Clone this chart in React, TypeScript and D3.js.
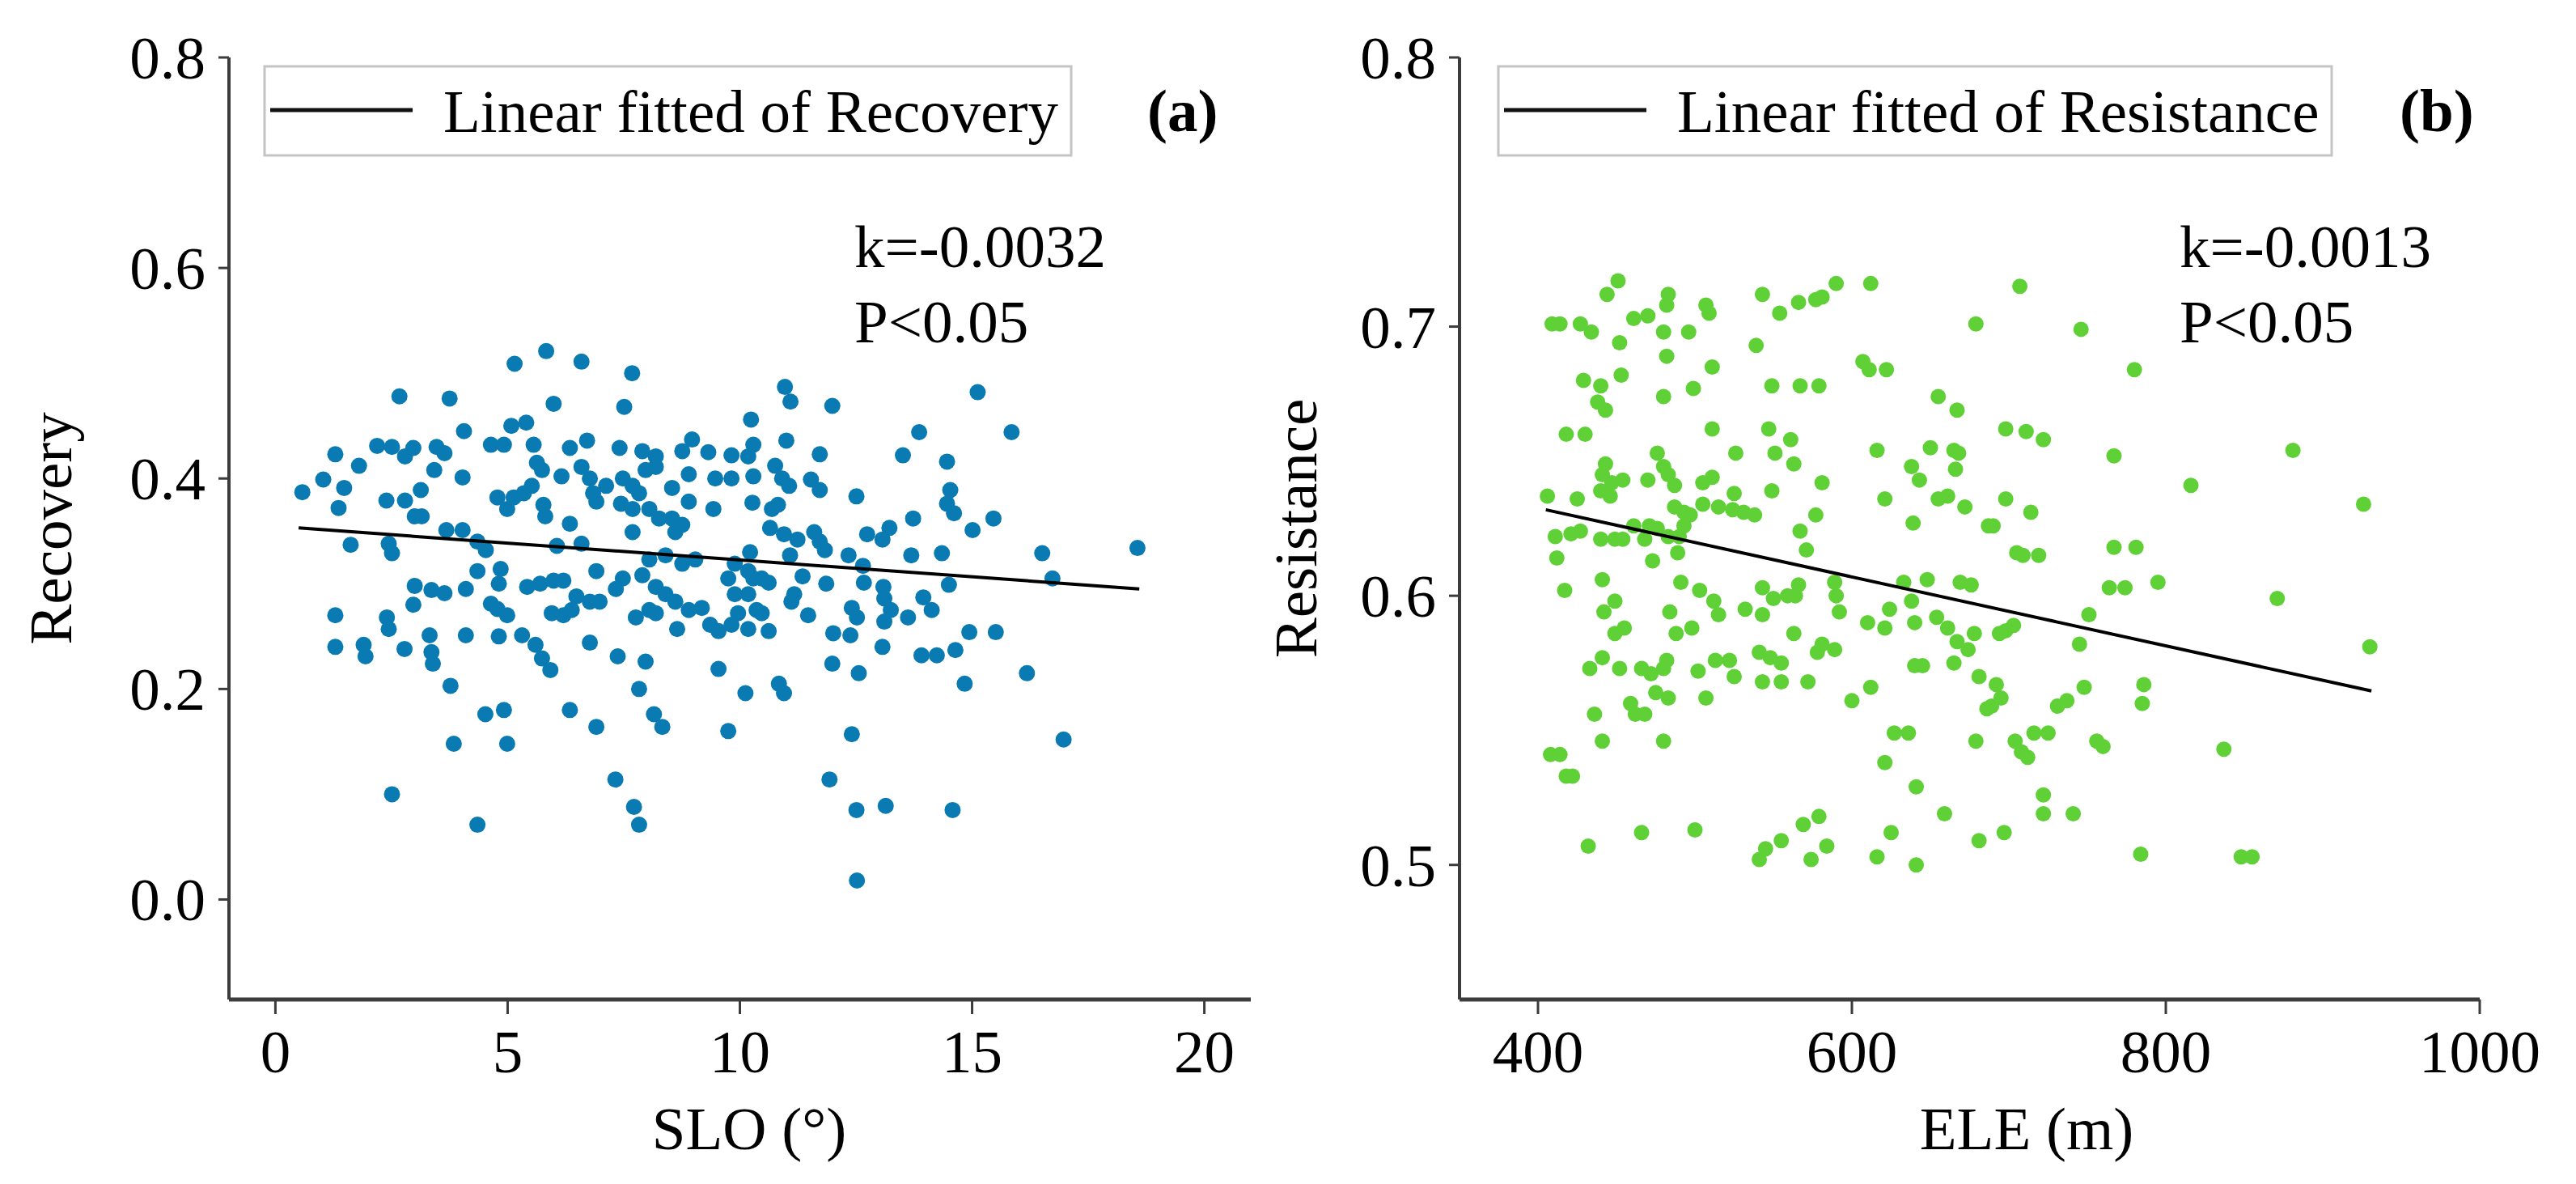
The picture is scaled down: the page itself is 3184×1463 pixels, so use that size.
import React from 'react';
import * as d3 from 'd3';

// ---- Panel (a): SLO vs Recovery ----
const sloValues = [
  5.83, 5.15, 6.59, 7.68, 2.67, 3.75, 5.99, 7.51, 4.06, 5.08, 5.40, 2.19, 2.51, 2.79, 2.97, 3.47, 3.64, 4.64, 4.92, 5.56,
  6.34, 6.71, 7.41, 7.90, 8.19, 8.97, 8.76, 9.32, 9.82, 1.29, 1.80, 1.03, 1.48, 0.58, 1.36, 2.39, 2.79, 3.13, 3.00, 3.15,
  3.42, 4.03, 5.63, 5.74, 5.52, 5.35, 5.13, 4.78, 4.99, 5.77, 5.81, 6.16, 6.59, 6.77, 6.84, 6.91, 7.12, 7.48, 7.69, 7.83,
  7.97, 8.19, 7.44, 7.69, 8.05, 8.26, 8.54, 8.76, 8.61, 8.54, 8.90, 8.90, 9.47, 9.82, 9.43, 6.34, 7.69, 1.62, 2.44, 2.51,
  3.68, 4.03, 4.35, 4.53, 6.06, 6.59, 8.05, 8.40, 8.76, 9.04, 9.89, 4.35, 4.85, 4.81, 6.91, 7.48, 7.33, 7.90, 8.19, 8.40,
  8.61, 8.90, 9.18, 9.75, 9.89, 9.96, 3.00, 3.36, 3.64, 4.10, 5.42, 5.70, 5.99, 6.20, 6.48, 6.77, 6.98, 5.95, 6.20, 6.38,
  4.64, 4.78, 4.99, 7.76, 8.05, 8.19, 9.36, 9.54, 9.82, 1.29, 2.97, 2.40, 2.44, 3.32, 4.10, 4.81, 5.31, 5.60, 5.74, 5.92,
  6.77, 7.37, 7.97, 8.65, 9.54, 1.29, 1.90, 1.94, 2.78, 3.36, 3.39, 3.77, 7.83, 4.52, 4.92, 6.34, 6.91, 8.15, 8.33, 9.75,
  3.84, 4.99, 7.32, 2.51, 7.72, 7.83, 4.35,
  10.97, 11.09, 11.99, 15.12, 10.24, 13.86, 15.85, 10.29, 11.00, 11.72, 13.51, 14.46, 10.18, 10.76, 10.91, 11.06, 10.29,
  11.53, 11.72, 12.51, 14.53, 14.46, 14.61, 10.27, 10.69, 10.82, 13.73, 15.01, 15.46, 10.65, 10.95, 11.24, 11.60, 11.72,
  11.83, 12.74, 13.07, 13.22, 10.22, 11.08, 12.34, 13.69, 14.35, 16.51, 18.56, 12.65, 12.67, 13.09, 13.11, 13.25, 13.11,
  13.62, 13.95, 14.13, 14.50, 16.73, 11.86, 11.35, 11.17, 11.11, 10.18, 10.29, 10.47, 10.62, 10.18, 10.36, 10.47, 10.18,
  10.62, 11.47, 12.41, 12.52, 12.01, 12.38, 13.07, 13.91, 14.24, 14.64, 14.94, 15.51, 11.99, 12.56, 14.84, 16.18, 10.12,
  10.84, 10.95, 12.41, 16.97, 11.93, 12.51, 13.14, 14.58, 12.52,
];
const recoveryValues = [
  0.521, 0.509, 0.511, 0.500, 0.478, 0.476, 0.471, 0.468, 0.445, 0.450, 0.453, 0.431, 0.430, 0.421, 0.429, 0.430, 0.424, 0.432, 0.432, 0.432,
  0.429, 0.436, 0.429, 0.426, 0.421, 0.437, 0.426, 0.425, 0.422, 0.423, 0.412, 0.399, 0.391, 0.387, 0.372, 0.379, 0.379, 0.389, 0.364, 0.364,
  0.408, 0.401, 0.415, 0.408, 0.393, 0.386, 0.382, 0.382, 0.371, 0.375, 0.364, 0.402, 0.411, 0.400, 0.386, 0.378, 0.393, 0.400, 0.393, 0.386,
  0.408, 0.411, 0.376, 0.371, 0.371, 0.362, 0.362, 0.356, 0.349, 0.391, 0.404, 0.378, 0.400, 0.400, 0.371, 0.357, 0.349, 0.337, 0.338, 0.329,
  0.351, 0.351, 0.340, 0.332, 0.336, 0.338, 0.323, 0.327, 0.319, 0.323, 0.319, 0.312, 0.314, 0.300, 0.312, 0.305, 0.295, 0.308, 0.297, 0.290,
  0.283, 0.275, 0.277, 0.305, 0.290, 0.272, 0.298, 0.294, 0.291, 0.295, 0.297, 0.300, 0.303, 0.303, 0.288, 0.283, 0.283, 0.272, 0.270, 0.275,
  0.281, 0.276, 0.270, 0.268, 0.275, 0.272, 0.261, 0.255, 0.261, 0.270, 0.280, 0.268, 0.257, 0.251, 0.251, 0.250, 0.251, 0.242, 0.229, 0.218,
  0.244, 0.231, 0.226, 0.257, 0.219, 0.240, 0.242, 0.231, 0.238, 0.235, 0.224, 0.203, 0.200, 0.176, 0.180, 0.180, 0.164, 0.176, 0.164, 0.160,
  0.148, 0.148, 0.114, 0.100, 0.088, 0.071, 0.071,
  0.487, 0.473, 0.469, 0.482, 0.456, 0.444, 0.444, 0.432, 0.436, 0.423, 0.422, 0.416, 0.421, 0.412, 0.400, 0.393, 0.402,
  0.399, 0.389, 0.383, 0.389, 0.376, 0.367, 0.377, 0.371, 0.375, 0.362, 0.351, 0.362, 0.353, 0.347, 0.342, 0.349, 0.340,
  0.332, 0.347, 0.342, 0.353, 0.330, 0.327, 0.327, 0.327, 0.329, 0.329, 0.334, 0.317, 0.301, 0.297, 0.286, 0.275, 0.264,
  0.268, 0.287, 0.275, 0.299, 0.305, 0.300, 0.307, 0.290, 0.283, 0.312, 0.305, 0.305, 0.301, 0.290, 0.275, 0.272, 0.257,
  0.255, 0.270, 0.277, 0.268, 0.253, 0.251, 0.240, 0.232, 0.232, 0.237, 0.254, 0.254, 0.224, 0.215, 0.205, 0.215, 0.196,
  0.205, 0.196, 0.157, 0.152, 0.114, 0.085, 0.089, 0.085, 0.018,
];

// ---- Panel (b): ELE vs Resistance ----
const eleValues = [
  451, 444, 483, 482, 507, 509, 543, 554, 566, 577, 581, 590, 612, 679, 409, 414, 427, 434, 461, 470,
  480, 496, 452, 539, 482, 511, 607, 611, 622, 429, 440, 453, 499, 480, 549, 567, 579, 438, 443, 655,
  667, 418, 430, 511, 547, 561, 551, 563, 526, 476, 616, 650, 665, 668, 666, 638, 643, 443, 441, 440,
  446, 447, 454, 470, 480, 483, 487, 505, 511, 406, 425, 525, 549, 581, 621, 655, 661, 672, 487, 493,
  497, 505, 515, 524, 531, 538, 493, 577, 567, 639, 687, 411, 421, 427, 440, 449, 454, 461, 471, 476,
  468, 483, 490, 489, 412, 473, 571, 417, 441, 491, 503, 512, 515, 484, 449, 442, 532, 543, 543, 550,
  559, 566, 564, 589, 590, 592, 633, 648, 669, 676, 638, 624, 654, 640, 610, 621, 449, 455, 488, 498,
  563, 661, 667, 674, 678, 433, 441, 452, 466, 472, 480, 482, 502, 513, 522, 525, 541, 548, 555, 543,
  555, 572, 578, 581, 589, 640, 645, 665, 681, 436, 459, 462, 468, 475, 483, 507, 600, 612, 686, 441,
  480, 627, 636, 679, 408, 414, 418, 422, 621, 641, 659, 432, 466, 500, 541, 545, 555, 569, 579, 574,
  584, 616, 625, 641, 681,
  707, 746, 780, 698, 711, 722, 767, 881, 816, 926, 698, 714, 690, 705, 709, 719, 767, 781, 764, 774,
  795, 871, 751, 694, 698, 703, 745, 930, 692, 695, 689, 731, 737, 748, 786, 785, 704, 708, 712, 716,
  725, 756, 760, 837, 722, 722, 741, 697, 784, 848, 855,
];
const resistanceValues = [
  0.717, 0.712, 0.712, 0.708, 0.708, 0.705, 0.712, 0.705, 0.709, 0.710, 0.711, 0.716, 0.716, 0.701, 0.701, 0.701, 0.701, 0.698, 0.703, 0.704,
  0.698, 0.698, 0.694, 0.693, 0.689, 0.685, 0.687, 0.684, 0.684, 0.680, 0.678, 0.682, 0.677, 0.674, 0.678, 0.678, 0.678, 0.672, 0.669, 0.674,
  0.669, 0.660, 0.660, 0.662, 0.662, 0.658, 0.653, 0.649, 0.653, 0.653, 0.654, 0.655, 0.654, 0.653, 0.647, 0.648, 0.643, 0.649, 0.645, 0.639,
  0.637, 0.642, 0.643, 0.643, 0.648, 0.645, 0.641, 0.642, 0.644, 0.637, 0.636, 0.638, 0.639, 0.642, 0.636, 0.636, 0.637, 0.633, 0.633, 0.631,
  0.630, 0.634, 0.633, 0.632, 0.631, 0.630, 0.626, 0.630, 0.624, 0.627, 0.626, 0.622, 0.623, 0.624, 0.621, 0.621, 0.621, 0.626, 0.626, 0.625,
  0.621, 0.622, 0.622, 0.616, 0.614, 0.613, 0.617, 0.602, 0.606, 0.605, 0.602, 0.598, 0.593, 0.594, 0.598, 0.594, 0.595, 0.603, 0.593, 0.599,
  0.600, 0.604, 0.600, 0.605, 0.600, 0.594, 0.605, 0.606, 0.605, 0.604, 0.598, 0.595, 0.592, 0.590, 0.590, 0.588, 0.586, 0.588, 0.586, 0.588,
  0.586, 0.588, 0.583, 0.580, 0.586, 0.573, 0.577, 0.573, 0.573, 0.571, 0.573, 0.576, 0.572, 0.576, 0.576, 0.570, 0.579, 0.577, 0.575, 0.568,
  0.568, 0.568, 0.579, 0.582, 0.580, 0.574, 0.574, 0.575, 0.570, 0.556, 0.560, 0.556, 0.556, 0.564, 0.562, 0.562, 0.561, 0.566, 0.558, 0.546,
  0.546, 0.549, 0.549, 0.546, 0.541, 0.541, 0.533, 0.533, 0.538, 0.529, 0.519, 0.507, 0.512, 0.513, 0.502, 0.506, 0.509, 0.515, 0.518, 0.502,
  0.507, 0.503, 0.512, 0.500, 0.509,
  0.715, 0.699, 0.684, 0.662, 0.661, 0.658, 0.652, 0.654, 0.641, 0.634, 0.636, 0.631, 0.626, 0.616, 0.615, 0.615, 0.618, 0.618, 0.603, 0.603,
  0.605, 0.599, 0.593, 0.586, 0.587, 0.589, 0.582, 0.581, 0.567, 0.562, 0.559, 0.559, 0.561, 0.566, 0.567, 0.560, 0.546, 0.542, 0.540, 0.549,
  0.549, 0.546, 0.544, 0.543, 0.526, 0.519, 0.519, 0.512, 0.504, 0.503, 0.503,
];

const sloTicks = [0, 5, 10, 15, 20];
const recoveryTicks = [0.0, 0.2, 0.4, 0.6, 0.8];
const eleTicks = [400, 600, 800, 1000];
const resistanceTicks = [0.5, 0.6, 0.7, 0.8];

const fitRecovery = { slope: -0.0032, intercept: 0.3546, from: 0.5, to: 18.6 };
const fitResistance = { slope: -0.000128, intercept: 0.6838, from: 405, to: 931 };

const FONT = '"Liberation Serif", "Times New Roman", Times, serif';
const AXIS = '#3c3c3c';
const TOP = 71;
const BOTTOM = 1235;

type PanelProps = {
  left: number;
  right: number;
  xDomain: [number, number];
  yDomain: [number, number];
  xs: number[];
  ys: number[];
  color: string;
  r: number;
  xTicks: number[];
  yTicks: number[];
  yFmt: (v: number) => string;
  xLabel: string;
  xLabelX: number;
  yLabel: string;
  yLabelX: number;
  legendX: number;
  legendW: number;
  legendText: string;
  tag: string;
  tagX: number;
  statX: number;
  k: string;
  fit: { slope: number; intercept: number; from: number; to: number };
};

function Panel(p: PanelProps) {
  const x = d3.scaleLinear().domain(p.xDomain).range([p.left, p.right]);
  const y = d3.scaleLinear().domain(p.yDomain).range([BOTTOM, TOP]);
  const line = d3
    .line<number>()
    .x((d) => x(d))
    .y((d) => y(p.fit.intercept + p.fit.slope * d));
  const pts = p.xs.map((v, i) => [v, p.ys[i]] as [number, number]);
  const fs = 75;
  return (
    <g fontFamily={FONT} fill="#000">
      {/* points */}
      {pts.map(([a, b], i) => (
        <circle key={i} cx={x(a)} cy={y(b)} r={p.r} fill={p.color} />
      ))}
      {/* fit line */}
      <path d={line([p.fit.from, p.fit.to]) || ''} stroke="#000" strokeWidth={4} fill="none" />
      {/* axes */}
      <line x1={p.left} x2={p.left} y1={TOP} y2={BOTTOM} stroke={AXIS} strokeWidth={4} />
      <line x1={p.left} x2={p.right} y1={BOTTOM} y2={BOTTOM} stroke={AXIS} strokeWidth={5} />
      {p.yTicks.map((t) => (
        <g key={'y' + t}>
          <line x1={p.left - 13} x2={p.left} y1={y(t)} y2={y(t)} stroke={AXIS} strokeWidth={3} />
          <text x={p.left - 29} y={y(t) + 26} fontSize={fs} textAnchor="end">
            {p.yFmt(t)}
          </text>
        </g>
      ))}
      {p.xTicks.map((t) => (
        <g key={'x' + t}>
          <line x1={x(t)} x2={x(t)} y1={BOTTOM} y2={BOTTOM + 18} stroke={AXIS} strokeWidth={3} />
          <text x={x(t)} y={BOTTOM + 90} fontSize={fs} textAnchor="middle">
            {String(t)}
          </text>
        </g>
      ))}
      <text x={p.xLabelX} y={1420} fontSize={fs} textAnchor="middle">
        {p.xLabel}
      </text>
      <text
        transform={`translate(${p.yLabelX},${653}) rotate(-90)`}
        fontSize={fs}
        textAnchor="middle"
      >
        {p.yLabel}
      </text>
      {/* legend */}
      <rect x={p.legendX} y={82} width={p.legendW} height={110} fill="#fff" stroke="#c4c4c4" strokeWidth={3} />
      <line x1={p.legendX + 7} x2={p.legendX + 183} y1={136} y2={136} stroke="#111" strokeWidth={5} />
      <text x={p.legendX + 221} y={163} fontSize={fs}>
        {p.legendText}
      </text>
      <text x={p.tagX} y={162} fontSize={fs} fontWeight="bold">
        {p.tag}
      </text>
      <text x={p.statX} y={330} fontSize={fs}>
        {p.k}
      </text>
      <text x={p.statX} y={423} fontSize={fs}>
        P&lt;0.05
      </text>
    </g>
  );
}

export default function App() {
  return (
    <svg
      width={3184}
      height={1463}
      viewBox="0 0 3184 1463"
      style={{ position: 'absolute', left: 0, top: 0, background: '#fff' }}
    >
      <rect x={0} y={0} width={3184} height={1463} fill="#fff" />
      <Panel
        left={283}
        right={1546}
        xDomain={[-1, 21]}
        yDomain={[-0.095, 0.8]}
        xs={sloValues}
        ys={recoveryValues}
        color="#0a7ab2"
        r={10}
        xTicks={sloTicks}
        yTicks={recoveryTicks}
        yFmt={d3.format('.1f')}
        xLabel="SLO (°)"
        xLabelX={926}
        yLabel="Recovery"
        yLabelX={88}
        legendX={327}
        legendW={997}
        legendText="Linear fitted of Recovery"
        tag="(a)"
        tagX={1418}
        statX={1056}
        k="k=-0.0032"
        fit={fitRecovery}
      />
      <Panel
        left={1804}
        right={3065}
        xDomain={[350, 1000]}
        yDomain={[0.45, 0.8]}
        xs={eleValues}
        ys={resistanceValues}
        color="#5fd136"
        r={9.5}
        xTicks={eleTicks}
        yTicks={resistanceTicks}
        yFmt={d3.format('.1f')}
        xLabel="ELE (m)"
        xLabelX={2505}
        yLabel="Resistance"
        yLabelX={1627}
        legendX={1852}
        legendW={1030}
        legendText="Linear fitted of Resistance"
        tag="(b)"
        tagX={2966}
        statX={2694}
        k="k=-0.0013"
        fit={fitResistance}
      />
    </svg>
  );
}
